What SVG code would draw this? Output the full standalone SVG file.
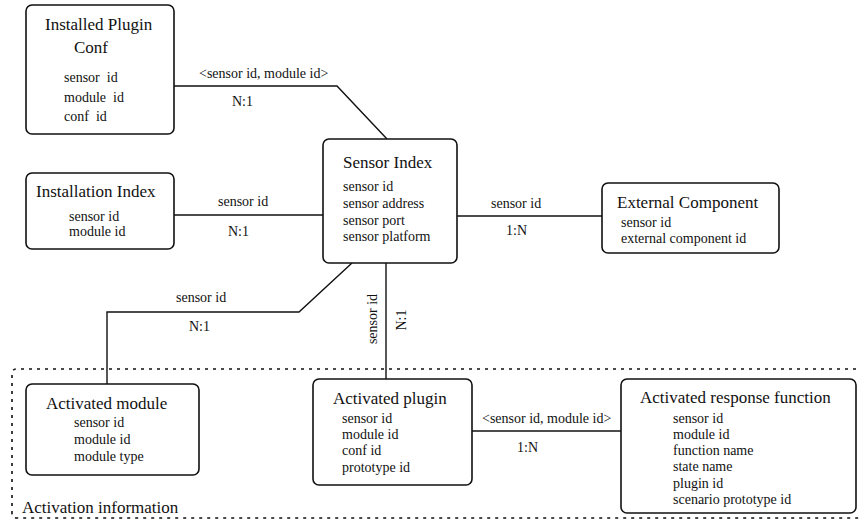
<svg xmlns="http://www.w3.org/2000/svg" width="859" height="525" viewBox="0 0 859 525" font-family="'Liberation Serif', 'DejaVu Serif', 'Times New Roman', serif">
  <style>
    text { font-family: "Liberation Serif", "DejaVu Serif", "Times New Roman", serif; fill: #111; }
    .title { font-size: 17px; }
    .body { font-size: 14px; white-space: pre; }
    .label { font-size: 14px; }
    .box { fill: #fff; stroke: #111; stroke-width: 1.6; }
    .conn { fill: none; stroke: #111; stroke-width: 1.4; }
    .region { fill: none; stroke: #111; stroke-width: 1.6; stroke-dasharray: 3 5; }
  </style>
  <rect width="859" height="525" fill="#fff"/>

  <!-- Activation information area (dotted) -->
  <g id="activation-area">
    <path class="region" d="M 880 369 L 17 369 Q 12 369 12 374 L 12 513 Q 12 518 17 518 L 880 518"/>
    <text class="title" x="22" y="513">Activation information</text>
  </g>

  <!-- Connectors -->
  <g id="connectors">
    <polyline class="conn" points="174,86 337,86 387,139"/>
    <text class="label" x="199" y="78">&lt;sensor id, module id&gt;</text>
    <text class="label" x="232" y="106">N:1</text>

    <line class="conn" x1="174" y1="215" x2="323" y2="215"/>
    <text class="label" x="218" y="206">sensor id</text>
    <text class="label" x="228" y="236">N:1</text>

    <line class="conn" x1="457" y1="216" x2="602" y2="216"/>
    <text class="label" x="491" y="208">sensor id</text>
    <text class="label" x="506" y="235">1:N</text>

    <polyline class="conn" points="352,263 299,312 107,312 107,384"/>
    <text class="label" x="176" y="302">sensor id</text>
    <text class="label" x="189" y="331">N:1</text>

    <line class="conn" x1="386" y1="263" x2="386" y2="379"/>
    <text class="label" text-anchor="middle" transform="translate(377,319) rotate(-90)">sensor id</text>
    <text class="label" text-anchor="middle" transform="translate(406,320) rotate(-90)">N:1</text>

    <line class="conn" x1="472" y1="431" x2="621" y2="431"/>
    <text class="label" x="482" y="423">&lt;sensor id, module id&gt;</text>
    <text class="label" x="517" y="452">1:N</text>
  </g>

  <!-- Installed Plugin Conf -->
  <g id="installed-plugin-conf">
    <rect class="box" x="26" y="5" width="148" height="129" rx="6"/>
    <text class="title" x="45" y="30">Installed Plugin</text>
    <text class="title" x="74" y="53">Conf</text>
    <text class="body" x="64" y="82">sensor  id</text>
    <text class="body" x="64" y="102">module  id</text>
    <text class="body" x="64" y="121">conf  id</text>
  </g>

  <!-- Installation Index -->
  <g id="installation-index">
    <rect class="box" x="26" y="173" width="148" height="76" rx="6"/>
    <text class="title" x="36" y="197">Installation Index</text>
    <text class="body" x="69" y="221">sensor id</text>
    <text class="body" x="69" y="236">module id</text>
  </g>

  <!-- Sensor Index -->
  <g id="sensor-index">
    <rect class="box" x="323" y="139" width="134" height="124" rx="6"/>
    <text class="title" x="343" y="168">Sensor Index</text>
    <text class="body" x="343" y="191">sensor id</text>
    <text class="body" x="343" y="208">sensor address</text>
    <text class="body" x="343" y="225">sensor port</text>
    <text class="body" x="343" y="241">sensor platform</text>
  </g>

  <!-- External Component -->
  <g id="external-component">
    <rect class="box" x="602" y="183" width="177" height="70" rx="6"/>
    <text class="title" x="617" y="208">External Component</text>
    <text class="body" x="621" y="227">sensor id</text>
    <text class="body" x="621" y="243">external component id</text>
  </g>

  <!-- Activated module -->
  <g id="activated-module">
    <rect class="box" x="26" y="384" width="173" height="91" rx="6"/>
    <text class="title" x="46" y="409">Activated module</text>
    <text class="body" x="74" y="427">sensor id</text>
    <text class="body" x="74" y="444">module id</text>
    <text class="body" x="74" y="461">module type</text>
  </g>

  <!-- Activated plugin -->
  <g id="activated-plugin">
    <rect class="box" x="313" y="379" width="159" height="106" rx="6"/>
    <text class="title" x="333" y="404">Activated plugin</text>
    <text class="body" x="342" y="423">sensor id</text>
    <text class="body" x="342" y="439">module id</text>
    <text class="body" x="342" y="455">conf id</text>
    <text class="body" x="342" y="472">prototype id</text>
  </g>

  <!-- Activated response function -->
  <g id="activated-response-function">
    <rect class="box" x="621" y="379" width="235" height="134" rx="6"/>
    <text class="title" x="640" y="403">Activated response function</text>
    <text class="body" x="673" y="423">sensor id</text>
    <text class="body" x="673" y="439">module id</text>
    <text class="body" x="673" y="455">function name</text>
    <text class="body" x="673" y="471">state name</text>
    <text class="body" x="673" y="488">plugin id</text>
    <text class="body" x="673" y="504">scenario prototype id</text>
  </g>
</svg>
